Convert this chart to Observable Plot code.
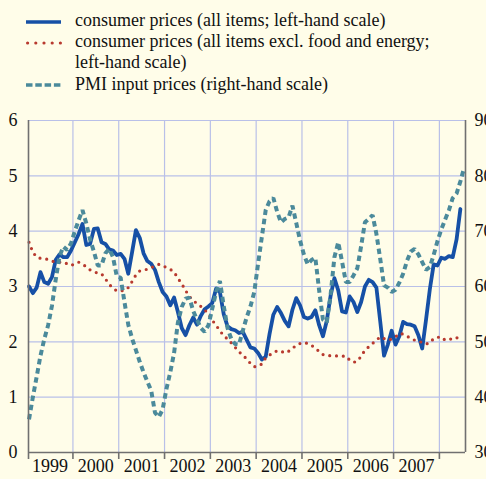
<!DOCTYPE html>
<html>
<head>
<meta charset="utf-8">
<script src="https://cdn.jsdelivr.net/npm/d3@7"></script>
<script src="https://cdn.jsdelivr.net/npm/@observablehq/plot@0.6"></script>
<style>
  html, body { margin: 0; padding: 0; background: #fffde9; overflow: hidden; }
  #wrap { position: relative; width: 486px; height: 479px; background: #fffde9; }
  #legend { position: absolute; left: 0; top: 0; width: 486px; height: 100px;
            font-family: "Liberation Serif", "Times New Roman", serif; font-size: 18px; color: #111; }
  .sw { position: absolute; left: 26px; }
  .tx { position: absolute; left: 75px; white-space: nowrap; line-height: 21px; }
  #chart { position: absolute; left: 0; top: 100px; }
  #chart svg text { font-family: "Liberation Serif", "Times New Roman", serif; }
</style>
</head>
<body>
<div id="wrap">
  <div id="legend"></div>
  <div id="chart"></div>
</div>
<script>
// ---- Data (monthly, starting January 1999) ----
const startYear = 1999;
const legendLabels = [
  "consumer prices (all items; left-hand scale)",
  "consumer prices (all items excl. food and energy;",
  "left-hand scale)",
  "PMI input prices (right-hand scale)"
];
const yearLabels = [1999, 2000, 2001, 2002, 2003, 2004, 2005, 2006, 2007];
const leftTicks = [0, 1, 2, 3, 4, 5, 6];
const rightTicks = [30, 40, 50, 60, 70, 80, 90];

// consumer prices, all items (% y/y)
const cpiAll = [
  3.00, 2.88, 2.98, 3.26, 3.08, 3.05, 3.17, 3.48, 3.58, 3.53, 3.53, 3.65,
  3.80, 3.95, 4.13, 3.75, 3.77, 4.04, 4.05, 3.80, 3.77, 3.67, 3.65, 3.57,
  3.59, 3.50, 3.23, 3.62, 4.02, 3.88, 3.60, 3.46, 3.41, 3.30, 3.08, 2.90,
  2.82, 2.66, 2.80, 2.54, 2.25, 2.12, 2.30, 2.44, 2.31, 2.47, 2.59, 2.64,
  2.70, 2.96, 2.90, 2.50, 2.28, 2.23, 2.21, 2.16, 2.18, 2.04, 1.90, 1.88,
  1.80, 1.68, 1.73, 2.14, 2.49, 2.63, 2.52, 2.38, 2.28, 2.58, 2.79, 2.66,
  2.45, 2.42, 2.45, 2.57, 2.30, 2.10, 2.38, 2.83, 3.15, 2.93, 2.55, 2.53,
  2.82, 2.72, 2.54, 2.72, 3.00, 3.12, 3.08, 2.98, 2.37, 1.75, 1.95, 2.20,
  1.95, 2.10, 2.36, 2.32, 2.31, 2.28, 2.12, 1.88, 2.40, 2.95, 3.40, 3.38,
  3.52, 3.50, 3.55, 3.53, 3.85, 4.40
];
// consumer prices, all items excl. food and energy (% y/y)
const cpiCore = [
  3.80, 3.62, 3.53, 3.51, 3.50, 3.49, 3.46, 3.44, 3.44, 3.44, 3.41, 3.38,
  3.41, 3.44, 3.40, 3.36, 3.30, 3.27, 3.24, 3.23, 3.14, 3.04, 2.97, 2.92,
  2.92, 2.93, 2.98, 3.09, 3.21, 3.28, 3.30, 3.31, 3.34, 3.37, 3.40, 3.38,
  3.34, 3.31, 3.26, 3.15, 3.05, 2.93, 2.82, 2.75, 2.69, 2.64, 2.58, 2.50,
  2.39, 2.30, 2.20, 2.11, 2.05, 1.98, 1.90, 1.82, 1.76, 1.69, 1.61, 1.55,
  1.56, 1.60, 1.71, 1.76, 1.80, 1.84, 1.83, 1.80, 1.83, 1.88, 1.94, 1.97,
  1.99, 1.97, 1.94, 1.88, 1.83, 1.77, 1.75, 1.75, 1.75, 1.74, 1.74, 1.74,
  1.67, 1.63, 1.65, 1.74, 1.85, 1.91, 1.97, 2.03, 2.09, 2.06, 2.03, 2.05,
  2.09, 2.15, 2.14, 2.10, 2.07, 2.03, 2.01, 1.99, 1.96, 1.98, 2.06, 2.08,
  2.09, 2.03, 2.04, 2.06, 2.06, 2.17
];
// PMI input prices (index)
const pmiInput = [
  36.0, 40.0, 43.7, 47.5, 50.5, 53.0, 56.5, 61.3, 65.5, 67.2, 66.6, 67.8,
  70.0, 72.0, 73.8, 71.4, 68.5, 66.3, 63.8, 63.8, 66.0, 66.8, 65.3, 61.8,
  61.6, 57.2, 53.1, 50.6, 48.5, 46.4, 44.5, 42.8, 41.2, 37.2, 36.4, 37.8,
  41.5, 44.5, 48.0, 53.5, 56.3, 57.8, 58.0, 55.6, 54.0, 52.5, 51.8, 53.0,
  56.0, 59.0, 61.0, 56.5, 52.5, 50.5, 49.6, 49.5, 52.0, 54.4, 56.4, 59.0,
  64.1, 69.0, 73.8, 75.4, 76.0, 73.5, 71.6, 72.2, 72.5, 74.6, 71.5, 68.3,
  65.8, 64.0, 64.8, 65.2, 59.3, 54.0, 53.5, 58.5, 65.3, 68.0, 64.5, 60.8,
  60.8, 62.0, 63.3, 67.3, 71.6, 72.2, 72.9, 69.5, 65.0, 60.2, 59.8, 59.0,
  59.4, 60.7, 62.3, 64.6, 66.3, 66.8, 65.8, 64.4, 63.0, 63.5, 65.7, 68.2,
  70.3, 72.1, 73.8, 76.0, 76.8, 79.0, 81.5
];

// ---- Styles ----
const C_CPI = "#1650a6", C_CORE = "#b83a2f", C_PMI = "#4b8a9b";
const C_GRID = "#b9c0e8", C_AXIS = "#707070";
const FONT = '"Liberation Serif", "Times New Roman", serif';

// ---- Legend ----
const legend = document.getElementById("legend");
const rows = [
  {y: 21.5, kind: "cpi", text: legendLabels[0]},
  {y: 42.5, kind: "core", text: legendLabels[1]},
  {y: 63.5, kind: null, text: legendLabels[2]},
  {y: 85, kind: "pmi", text: legendLabels[3]}
];
for (const r of rows) {
  if (r.kind) {
    const ns = "http://www.w3.org/2000/svg";
    const s = document.createElementNS(ns, "svg");
    s.setAttribute("width", 36); s.setAttribute("height", 8);
    s.setAttribute("class", "sw");
    s.style.top = (r.y - 4) + "px";
    const l = document.createElementNS(ns, "line");
    l.setAttribute("x1", r.kind === "core" ? 1.6 : 0);
    l.setAttribute("x2", 35);
    l.setAttribute("y1", 4); l.setAttribute("y2", 4);
    if (r.kind === "cpi") { l.setAttribute("stroke", C_CPI); l.setAttribute("stroke-width", 3.4); }
    if (r.kind === "core") { l.setAttribute("stroke", C_CORE); l.setAttribute("stroke-width", 3.2);
      l.setAttribute("stroke-dasharray", "0 8.2"); l.setAttribute("stroke-linecap", "round"); }
    if (r.kind === "pmi") { l.setAttribute("stroke", C_PMI); l.setAttribute("stroke-width", 3.4);
      l.setAttribute("stroke-dasharray", "6.5 2.8"); }
    s.appendChild(l);
    legend.appendChild(s);
  }
  const t = document.createElement("div");
  t.className = "tx";
  t.textContent = r.text;
  t.style.top = (r.y - 11.5) + "px";
  legend.appendChild(t);
}

// ---- Chart ----
const toT = i => startYear + (i + 0.5) / 12;
const cpiData = cpiAll.map((v, i) => ({t: toT(i), v}));
const coreData = cpiCore.map((v, i) => ({t: toT(i), v}));
const pmiData = pmiInput.map((v, i) => ({t: toT(i), v}));
const pmiToLeft = v => (v - 30) / 10;

const x0 = 1999.03, x1 = 2008.57;
const yearBounds = d3.range(2000, 2009);

const chart = Plot.plot({
  width: 486,
  height: 379,
  marginTop: 20,
  marginBottom: 27,
  marginLeft: 28,
  marginRight: 21,
  style: {background: "#fffde9", fontFamily: FONT, fontSize: "18px", color: "#111", overflow: "visible"},
  x: {domain: [x0, x1], label: null},
  y: {domain: [0, 6], label: null},
  marks: [
    Plot.gridY(leftTicks.slice(1), {stroke: C_GRID, strokeOpacity: 1, strokeWidth: 1.2}),
    Plot.gridX(yearBounds, {stroke: C_GRID, strokeOpacity: 1, strokeWidth: 1.2}),
    Plot.line(cpiData, {x: "t", y: "v", stroke: C_CPI, strokeWidth: 3.8, strokeLinejoin: "round"}),
    Plot.line(coreData, {x: "t", y: "v", stroke: C_CORE, strokeWidth: 3.2, strokeDasharray: "0 6.8", strokeLinecap: "round"}),
    Plot.line(pmiData, {x: "t", y: d => pmiToLeft(d.v), stroke: C_PMI, strokeWidth: 4, strokeDasharray: "5.5 3.8", strokeLinecap: "butt", strokeLinejoin: "miter"}),
    Plot.ruleX([x0, x1], {stroke: C_AXIS, strokeWidth: 1.6}),
    Plot.ruleY([0], {stroke: C_AXIS, strokeWidth: 1.6}),
    Plot.axisX({ticks: [x0, ...yearBounds], tickSize: 7, tickFormat: () => "", stroke: C_AXIS, strokeWidth: 1.6, label: null}),
    Plot.axisY({ticks: leftTicks, tickSize: 0, tickPadding: 11, tickFormat: d => String(d), fontSize: 18, fontFamily: FONT, label: null}),
    Plot.axisY({anchor: "right", ticks: leftTicks, tickSize: 0, tickPadding: 9,
      tickFormat: (d, i) => String(rightTicks[i]), fontSize: 18, fontFamily: FONT, label: null}),
    Plot.text(yearLabels, {x: d => d + 0.5, frameAnchor: "bottom", dy: 19, text: d => String(d), fontSize: 18, fontFamily: FONT, fill: "#111"})
  ]
});
document.getElementById("chart").appendChild(chart);
</script>
</body>
</html>
